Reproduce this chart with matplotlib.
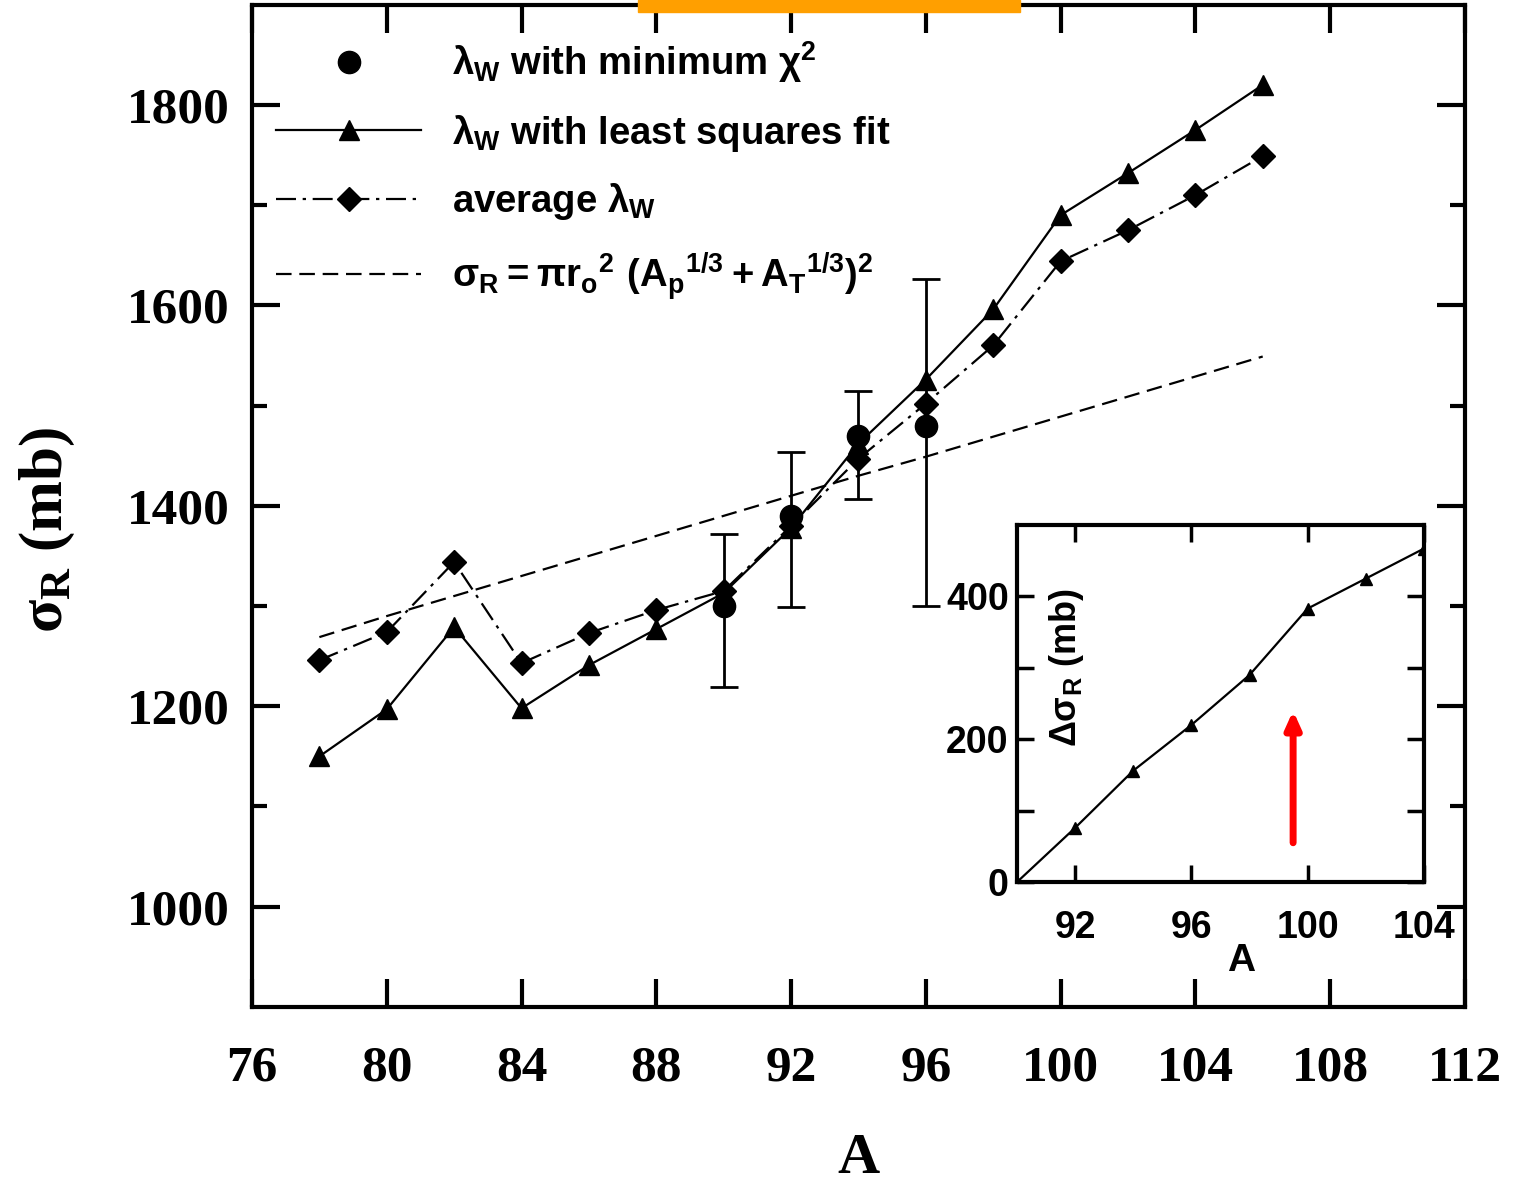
import numpy as np
import matplotlib
matplotlib.use('Agg')
import matplotlib.pyplot as plt
from matplotlib.patches import Rectangle

# --- data ---
A = [78, 80, 82, 84, 86, 88, 90, 92, 94, 96, 98, 100, 102, 104, 106]
sig_lsq = [1150, 1197, 1279, 1198, 1241, 1277, 1313, 1378, 1462, 1526, 1596, 1690, 1732, 1775, 1820]
sig_avg = [1246, 1274, 1344, 1243, 1273, 1296, 1315, 1380, 1447, 1502, 1560, 1644, 1675, 1710, 1749]
sig_geo = [1269, 1290, 1310, 1330, 1350, 1370, 1390, 1410, 1430, 1449, 1469, 1489, 1509, 1529, 1549]

A_chi = [90, 92, 94, 96]
sig_chi = [1300, 1390, 1470, 1480]
err_lo = [81, 91, 63, 180]
err_hi = [72, 64, 45, 146]

A_in = [90, 92, 94, 96, 98, 100, 102, 104]
dsig_in = [0, 76, 156, 220, 290, 383, 425, 467]

serif = 'Liberation Serif'
sans = 'Liberation Sans'

fig = plt.figure(figsize=(15.18, 11.86), dpi=100)
ax = fig.add_axes([0.166, 0.151, 0.799, 0.845])

lw = 1.6
ax.errorbar(A_chi, sig_chi, yerr=[err_lo, err_hi], fmt='none', ecolor='black',
            elinewidth=2, capsize=10, capthick=2)
ax.plot(A_chi, sig_chi, 'o', color='black', ms=16,
        label=r'$\mathregular{λ_W}$ with minimum $\mathregular{χ^2}$')
ax.plot(A, sig_lsq, '-', color='black', lw=lw, marker='^', ms=15,
        label=r'$\mathregular{λ_W}$ with least squares fit')
ax.plot(A, sig_avg, color='black', lw=lw, dashes=(9, 3, 1.5, 3), marker='D', ms=12,
        label=r'average $\mathregular{λ_W}$')
ax.plot(A, sig_geo, color='black', lw=lw, dashes=(7, 3.5),
        label=r'$\mathregular{σ_R = π{r_o}^2\ ({A_p}^{1/3} + {A_T}^{1/3})^2}$')

ax.set_xlim(76, 112)
ax.set_ylim(900, 1900)
ax.set_xticks(np.arange(76, 113, 4))
ax.set_yticks(np.arange(1000, 1801, 200))
ax.set_yticks(np.arange(1100, 1900, 200), minor=True)
ax.tick_params(which='both', direction='in', top=True, right=True, width=3)
ax.tick_params(which='major', length=20)
ax.tick_params(which='minor', length=11)
ax.tick_params(axis='x', pad=28)
ax.tick_params(axis='y', pad=16)
for lab in ax.get_xticklabels() + ax.get_yticklabels():
    lab.set_fontfamily(serif)
    lab.set_fontweight('bold')
    lab.set_fontsize(37)
for s in ax.spines.values():
    s.set_linewidth(3)

ax.set_xlabel('A', fontfamily=serif, fontweight='bold', fontsize=42)
ax.xaxis.set_label_coords(0.5, -0.126)
ax.set_ylabel(r'$\mathregular{σ_R}$ (mb)', fontfamily=serif, fontweight='bold', fontsize=44)
ax.yaxis.set_label_coords(-0.144, 0.476)

leg = ax.legend(loc='upper left', bbox_to_anchor=(-0.002, 0.992), frameon=False,
                handlelength=3.8, labelspacing=0.72, handletextpad=0.8,
                borderaxespad=0.3,
                prop={'family': sans, 'weight': 'bold', 'size': 27.5})

# --- inset ---
axi = fig.add_axes([0.670, 0.2563, 0.268, 0.3010])
axi.plot(A_in, dsig_in, '-', color='black', lw=1.6, marker='^', ms=8)
axi.set_xlim(90, 104)
axi.set_ylim(0, 500)
axi.set_xticks([92, 96, 100, 104])
axi.set_yticks([0, 200, 400])
axi.set_yticks([100, 300], minor=True)
axi.tick_params(which='both', direction='in', top=True, right=True, width=2.5)
axi.tick_params(which='major', length=12)
axi.tick_params(which='minor', length=12)
axi.tick_params(axis='x', pad=20)
axi.tick_params(axis='y', pad=6)
for lab in axi.get_xticklabels() + axi.get_yticklabels():
    lab.set_fontfamily(sans)
    lab.set_fontweight('bold')
    lab.set_fontsize(27)
for s in axi.spines.values():
    s.set_linewidth(3)
axi.set_xlabel('A', fontfamily=sans, fontweight='bold', fontsize=28)
axi.xaxis.set_label_coords(0.55, -0.17)
axi.set_ylabel(r'$\mathregular{Δσ_R}$ (mb)', fontfamily=sans, fontweight='bold', fontsize=26)
axi.yaxis.set_label_coords(0.17, 0.6)

axi.annotate('', xy=(99.5, 240), xytext=(99.5, 55),
             arrowprops=dict(arrowstyle='-|>,head_width=0.45,head_length=1.0', color='red', lw=5,
                             shrinkA=0, shrinkB=0))

# orange strip at the top edge
fig.patches.append(Rectangle((638 / 1518, 1 - 12 / 1186), (1020 - 638) / 1518, 12 / 1186,
                             transform=fig.transFigure, color='#ff9f00', zorder=10))

fig.savefig('out.png', dpi=100)
